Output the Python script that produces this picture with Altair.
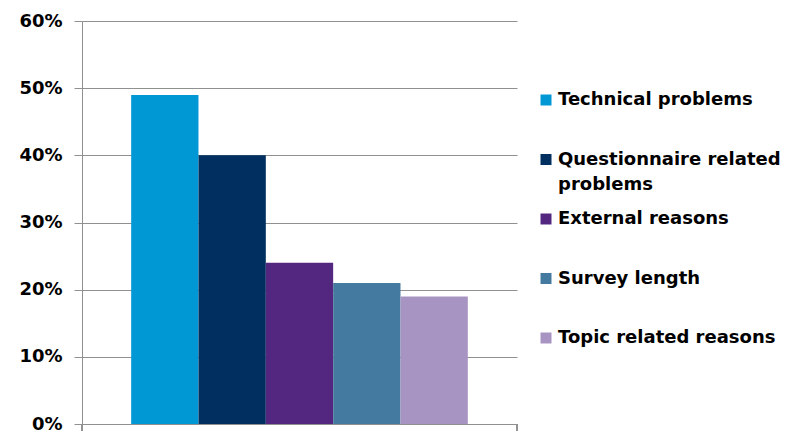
import altair as alt
import pandas as pd

categories = ["Technical problems", "Questionnaire related problems", "External reasons",
              "Survey length", "Topic related reasons"]
legend_labels = ["Technical problems", "Questionnaire related\nproblems", "External reasons",
                 "Survey length", "Topic related reasons"]
values = [0.49, 0.40, 0.24, 0.21, 0.19]
colors = ["#0098D4", "#002F60", "#53267F", "#457AA0", "#A894C3"]

df = pd.DataFrame({"category": categories, "label": legend_labels, "value": values})

FONT = "DejaVu Sans"
GRID = "#909090"

color = alt.Color("category:N", scale=alt.Scale(domain=categories, range=colors), legend=None)

bars = alt.Chart(df).mark_bar(size=67.3).encode(
    x=alt.X("category:N", sort=categories,
            scale=alt.Scale(paddingInner=0, paddingOuter=0.73),
            axis=alt.Axis(labels=False, ticks=False, title=None, domain=True,
                          domainColor=GRID, domainWidth=1)),
    y=alt.Y("value:Q", scale=alt.Scale(domain=[0, 0.6], nice=False),
            axis=alt.Axis(format=".0%", values=[0, 0.1, 0.2, 0.3, 0.4, 0.5, 0.6], title=None,
                          grid=True, gridColor=GRID, gridWidth=1, tickSize=8, tickColor=GRID,
                          domainColor=GRID, labelFont=FONT, labelFontSize=18,
                          labelFontWeight="bold", labelColor="#000000", labelPadding=12)),
    color=color,
)

end_left = alt.Chart(df).mark_rule(color=GRID, strokeWidth=1).encode(
    x=alt.value(0), y=alt.value(403), y2=alt.value(410))
end_right = alt.Chart(df).mark_rule(color=GRID, strokeWidth=1).encode(
    x=alt.value(435), y=alt.value(403), y2=alt.value(410))

leg_y = alt.Y("category:N", sort=categories,
              scale=alt.Scale(type="point", range=[79, 317], padding=0), axis=None)

leg_sq = alt.Chart(df).mark_square(size=121, opacity=1).encode(
    x=alt.value(464), y=leg_y, color=color)

leg_txt = alt.Chart(df).mark_text(align="left", baseline="top", dy=-9, lineBreak="\n",
                                  lineHeight=25, font=FONT, fontSize=18, fontWeight="bold",
                                  color="#000000").encode(
    x=alt.value(476), y=leg_y, text="label:N")

chart = alt.layer(bars, end_left, end_right, leg_sq, leg_txt).resolve_scale(
    y="independent"
).properties(
    width=435, height=403,
    autosize=alt.AutoSizeParams(type="none"),
    padding={"left": 82, "top": 21, "right": 272, "bottom": 10},
).configure_view(stroke=None)

chart.save("out.html", embed_options={"renderer": "svg", "actions": False})
